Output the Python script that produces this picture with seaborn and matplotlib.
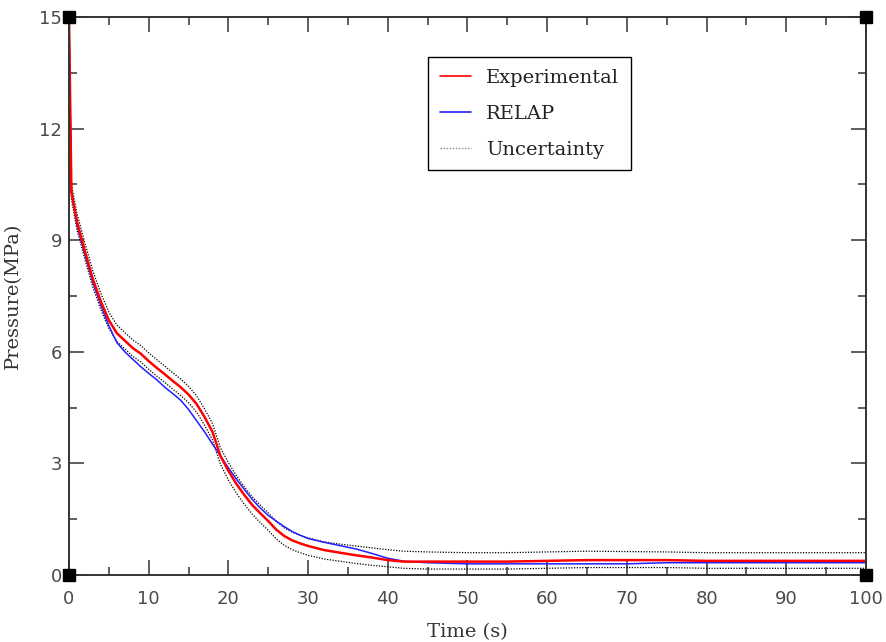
import numpy as np
import pandas as pd
import matplotlib
matplotlib.use("Agg")
import matplotlib.pyplot as plt
import seaborn as sns
from matplotlib.lines import Line2D

# ---- data ----
time = [0, 0.3, 1, 2, 3, 4, 5, 6, 7, 8, 9, 10, 11, 12, 13, 14, 15, 16, 17, 18,
        19, 20, 21, 22, 23, 24, 25, 26, 27, 28, 29, 30, 32, 34, 36, 38, 40, 42,
        45, 50, 55, 60, 65, 70, 75, 80, 85, 90, 95, 100]

experimental = [15.0, 10.3, 9.5, 8.7, 7.95, 7.35, 6.85, 6.5, 6.3, 6.1, 5.95, 5.75,
                5.57, 5.4, 5.22, 5.05, 4.85, 4.6, 4.25, 3.85, 3.2, 2.8, 2.45, 2.15,
                1.88, 1.66, 1.45, 1.22, 1.05, 0.93, 0.85, 0.78, 0.67, 0.6, 0.53, 0.47,
                0.4, 0.36, 0.36, 0.36, 0.36, 0.38, 0.4, 0.4, 0.4, 0.38, 0.38, 0.38,
                0.38, 0.38]

relap = [15.0, 10.3, 9.4, 8.6, 7.85, 7.25, 6.7, 6.25, 6.0, 5.8, 5.6, 5.42,
         5.25, 5.05, 4.88, 4.7, 4.45, 4.15, 3.85, 3.52, 3.2, 2.88, 2.58, 2.3,
         2.03, 1.8, 1.6, 1.45, 1.3, 1.17, 1.07, 0.98, 0.88, 0.79, 0.7, 0.58,
         0.45, 0.37, 0.33, 0.3, 0.3, 0.3, 0.3, 0.3, 0.33, 0.33, 0.33, 0.33,
         0.33, 0.33]

upper = [15.0, 10.5, 9.72, 8.92, 8.17, 7.57, 7.07, 6.72, 6.52, 6.32, 6.17, 5.97,
         5.79, 5.62, 5.44, 5.27, 5.07, 4.82, 4.47, 4.07, 3.42, 3.02, 2.67, 2.37,
         2.1, 1.88, 1.67, 1.44, 1.27, 1.15, 1.07, 1.0, 0.89, 0.83, 0.78, 0.73,
         0.68, 0.64, 0.62, 0.6, 0.6, 0.62, 0.64, 0.63, 0.62, 0.6, 0.6, 0.6,
         0.6, 0.6]

lower = [15.0, 10.1, 9.28, 8.48, 7.73, 7.13, 6.63, 6.28, 6.08, 5.88, 5.73, 5.53,
         5.35, 5.18, 5.0, 4.83, 4.63, 4.38, 4.03, 3.63, 2.98, 2.55, 2.2, 1.9,
         1.63, 1.41, 1.2, 0.97, 0.8, 0.68, 0.6, 0.53, 0.43, 0.37, 0.31, 0.26,
         0.22, 0.18, 0.16, 0.16, 0.16, 0.18, 0.2, 0.2, 0.2, 0.18, 0.18, 0.18,
         0.18, 0.18]

series_labels = ["Experimental", "RELAP", "Uncertainty"]
x_ticks = [0, 10, 20, 30, 40, 50, 60, 70, 80, 90, 100]
y_ticks = [0, 3, 6, 9, 12, 15]

# ---- plot ----
sns.set_style("ticks")
plt.rcParams["font.family"] = ["DejaVu Sans"]

fig = plt.figure(figsize=(8.87, 6.42), dpi=100)
ax = fig.add_axes([69 / 887, 67 / 642, 797 / 887, 558 / 642])

sns.lineplot(x=time, y=upper, ax=ax, color="black", lw=0.9, linestyle=(0, (1, 1.2)),
             estimator=None, sort=False)
sns.lineplot(x=time, y=lower, ax=ax, color="black", lw=0.9, linestyle=(0, (1, 1.2)),
             estimator=None, sort=False)
sns.lineplot(x=time, y=relap, ax=ax, color="#2020ff", lw=1.1,
             estimator=None, sort=False)
sns.lineplot(x=time, y=experimental, ax=ax, color="#ff0000", lw=1.8,
             estimator=None, sort=False)

ax.set_xlim(0, 100)
ax.set_ylim(0, 15)
ax.set_xticks(x_ticks)
ax.set_yticks(y_ticks)
ax.set_xticks(np.arange(5, 100, 10), minor=True)
ax.set_yticks(np.arange(1.5, 15, 3), minor=True)

for s in ax.spines.values():
    s.set_color("#333333")
    s.set_linewidth(1.4)

ax.tick_params(which="both", direction="in", top=True, right=True,
               color="#333333", width=1.1, labelsize=13, labelcolor="#4a4a4a")
ax.tick_params(which="major", length=11)
ax.tick_params(which="minor", length=6)
ax.tick_params(axis="x", which="major", pad=11)
ax.tick_params(axis="y", which="major", pad=5)

serif = {"family": "DejaVu Serif", "size": 14, "color": "#333333"}
ax.set_xlabel("Time (s)", fontdict=serif, labelpad=11)
ax.set_ylabel("Pressure(MPa)", fontdict=serif, labelpad=12)

# corner squares
ax.plot([0, 1, 0, 1], [0, 0, 1, 1], "s", color="black", ms=9,
        transform=ax.transAxes, clip_on=False, zorder=10)

handles = [Line2D([], [], color="#ff0000", lw=1.2),
           Line2D([], [], color="#2020ff", lw=1.2),
           Line2D([], [], color="#888888", lw=1.0, linestyle=(0, (1, 1.2)))]
leg = ax.legend(handles, series_labels, loc="upper left",
                bbox_to_anchor=((428 - 69) / 797, (575 - 57) / 558),
                frameon=True, fancybox=False, edgecolor="black", framealpha=1,
                prop={"family": "DejaVu Serif", "size": 14},
                handlelength=1.6, labelspacing=0.93, borderpad=0.6,
                handletextpad=0.8, borderaxespad=0)
leg.get_frame().set_linewidth(1.0)
for t in leg.get_texts():
    t.set_color("#222222")

fig.savefig("out.png", dpi=100)
